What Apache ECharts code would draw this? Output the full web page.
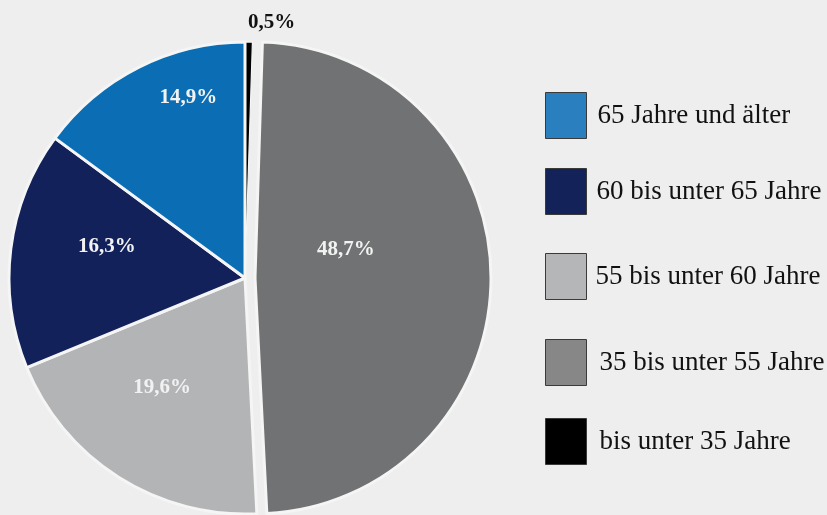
<!DOCTYPE html>
<html>
<head>
<meta charset="utf-8">
<script src="https://cdn.jsdelivr.net/npm/echarts@6/dist/echarts.min.js"></script>
<style>
html,body{margin:0;padding:0;background:#edeeed;}
#chart{width:827px;height:515px;}
</style>
</head>
<body>
<div id="chart"></div>
<script>
// ---- data ----
const categories = ['bis unter 35 Jahre', '35 bis unter 55 Jahre', '55 bis unter 60 Jahre', '60 bis unter 65 Jahre', '65 Jahre und älter'];
const shares = [0.5, 48.7, 19.6, 16.3, 14.9];
const legendOrder = ['65 Jahre und älter', '60 bis unter 65 Jahre', '55 bis unter 60 Jahre', '35 bis unter 55 Jahre', 'bis unter 35 Jahre'];

// ---- styles ----
const sliceColors = ['#000000', '#717273', '#b3b4b6', '#13215a', '#0b6db4'];
const legendColors = {
  '65 Jahre und älter': '#2a7fbe',
  '60 bis unter 65 Jahre': '#14225a',
  '55 bis unter 60 Jahre': '#b5b6b8',
  '35 bis unter 55 Jahre': '#878787',
  'bis unter 35 Jahre': '#000000'
};
const legendTops = [92, 168, 253, 339, 418];
const legendTextPad = [6, 5, 4, 8, 8];
const labelShift = [[-8, -7], [-30, -27], [-18, 7], [-18, -17], [-2, -72]];

const chart = echarts.init(document.getElementById('chart'), null, {renderer: 'canvas'});
const fontFamily = '"Liberation Serif", "DejaVu Serif", serif';

const pieData = categories.map((name, i) => {
  const item = {
    name: name,
    value: shares[i],
    itemStyle: {color: sliceColors[i]}
  };
  if (i === 1) item.selected = true;
  if (i === 0) {
    item.itemStyle.borderWidth = 1.2;
    item.label = {position: 'outside', color: '#111111'};
    item.labelLine = {show: false, length: 12, length2: 2};
  }
  return item;
});

const legends = legendOrder.map((name, i) => ({
  orient: 'vertical',
  left: 545,
  top: legendTops[i],
  padding: 0,
  itemWidth: 41,
  itemHeight: 46,
  icon: 'rect',
  selectedMode: false,
  data: [{
    name: name,
    itemStyle: {color: legendColors[name], borderColor: '#3a3a3a', borderWidth: 1}
  }],
  textStyle: {
    fontFamily: fontFamily,
    fontSize: 27,
    color: '#111111',
    padding: [0, 0, 0, legendTextPad[i]]
  }
}));

chart.setOption({
  backgroundColor: '#edeeed',
  animation: false,
  legend: legends,
  series: [{
    type: 'pie',
    center: [245, 278],
    radius: 236,
    startAngle: 90,
    clockwise: true,
    selectedMode: 'single',
    selectedOffset: 10,
    avoidLabelOverlap: false,
    data: pieData,
    itemStyle: {borderColor: '#f4f5f4', borderWidth: 3},
    label: {
      show: true,
      position: 'inside',
      fontFamily: fontFamily,
      fontWeight: 'bold',
      fontSize: 21,
      color: '#f2f2f2',
      formatter: p => p.value.toFixed(1).replace('.', ',') + '%'
    },
    labelLayout: p => ({dx: labelShift[p.dataIndex][0], dy: labelShift[p.dataIndex][1]}),
    emphasis: {disabled: true},
    select: {itemStyle: {borderColor: '#f4f5f4', borderWidth: 3}}
  }]
});
</script>
</body>
</html>
